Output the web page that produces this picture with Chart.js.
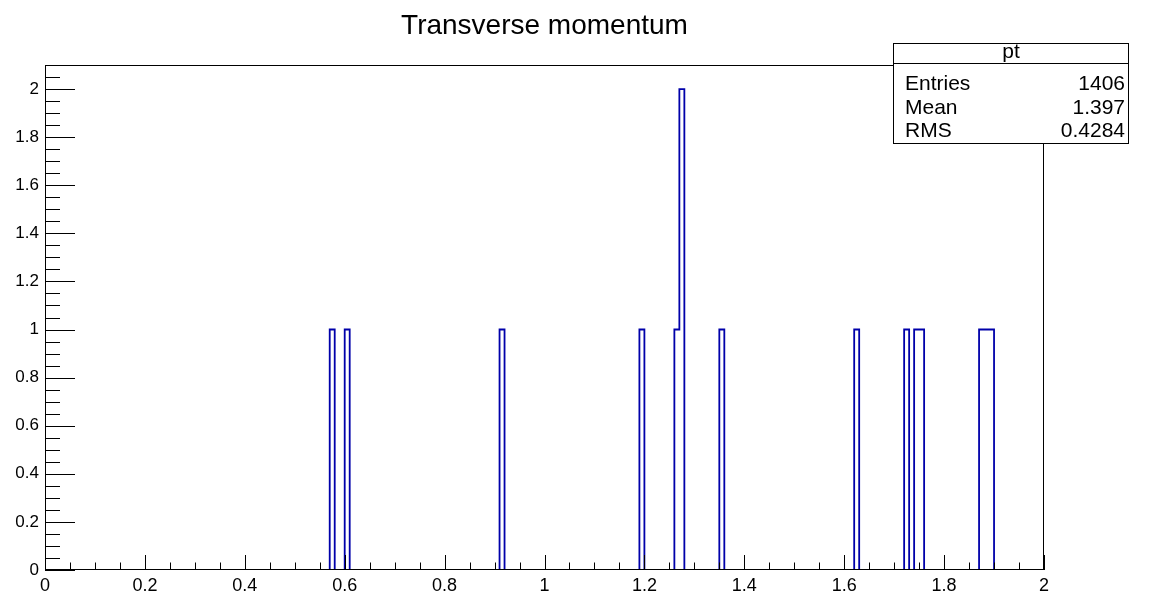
<!DOCTYPE html>
<html>
<head>
<meta charset="utf-8">
<script src="https://cdn.jsdelivr.net/npm/chart.js@4.4.1/dist/chart.umd.min.js"></script>
<style>
  body { margin: 0; background: #fff; }
  #wrap { width: 1149px; height: 595px; }
</style>
</head>
<body>
<div id="wrap"><canvas id="ptChart" width="1149" height="595"></canvas></div>
<script>
// histogram: 200 bins from 0 to 2, only filled bins listed
const xMin = 0;
const xMax = 2;
const nBins = 200;
const binLow = [0.57, 0.60, 0.91, 1.19, 1.26, 1.27, 1.35, 1.62, 1.72, 1.74, 1.75, 1.87, 1.88, 1.89];
const binCounts = [1, 1, 1, 1, 1, 2, 1, 1, 1, 1, 1, 1, 1, 1];

const xTickValues = [0, 0.2, 0.4, 0.6, 0.8, 1, 1.2, 1.4, 1.6, 1.8, 2];
const xTickLabels = ['0', '0.2', '0.4', '0.6', '0.8', '1', '1.2', '1.4', '1.6', '1.8', '2'];
const yTickValues = [0, 0.2, 0.4, 0.6, 0.8, 1, 1.2, 1.4, 1.6, 1.8, 2];
const yTickLabels = ['0', '0.2', '0.4', '0.6', '0.8', '1', '1.2', '1.4', '1.6', '1.8', '2'];
const yMax = 2.1;

const statsTitle = 'pt';
const statsNames = ['Entries', 'Mean', 'RMS'];
const statsValues = ['1406', '1.397', '0.4284'];

// build step outline from the bins
const width = (xMax - xMin) / nBins;
const counts = new Array(nBins).fill(0);
binLow.forEach((lo, i) => {
    counts[Math.round((lo - xMin) / width)] = binCounts[i];
});
// point at each bin's low edge with its count, closed at xMax
const stepPoints = counts.map((c, i) => ({ x: xMin + i * width, y: c }));
stepPoints.push({ x: xMax, y: 0 });

const FONT = '"Liberation Sans", Arial, Helvetica, sans-serif';

// ROOT style frame, inward ticks, title and stats box
const rootDecor = {
    id: 'rootDecor',
    afterDraw(chart) {
        const c = chart.ctx;
        const a = chart.chartArea;
        const xs = chart.scales.x;
        const ys = chart.scales.y;
        c.save();
        c.strokeStyle = '#000';
        c.lineWidth = 1;

        // frame
        c.strokeRect(a.left + 0.5, a.top + 0.5, a.right - a.left - 1, a.bottom - a.top - 1);
        c.beginPath();
        c.moveTo(a.left, a.bottom - 0.5);
        c.lineTo(a.right, a.bottom - 0.5);
        c.moveTo(a.left + 0.5, a.top);
        c.lineTo(a.left + 0.5, a.bottom);
        c.stroke();

        // x ticks
        c.beginPath();
        for (let k = 0; k <= 40; k++) {
            const v = xMin + k * 0.05;
            const px = Math.round(xs.getPixelForValue(v)) + 0.5;
            const len = (k % 4 === 0) ? 15 : 7.5;
            c.moveTo(px, a.bottom);
            c.lineTo(px, a.bottom - len);
        }
        // y ticks
        for (let k = 0; k <= 42; k++) {
            const v = k * 0.05;
            if (v > yMax + 1e-9) break;
            const py = Math.round(ys.getPixelForValue(v)) + 0.5;
            const len = (k % 4 === 0) ? 30 : 15;
            c.moveTo(a.left, py);
            c.lineTo(a.left + len, py);
        }
        c.stroke();

        // title
        c.fillStyle = '#000';
        c.font = '28px ' + FONT;
        c.textAlign = 'center';
        c.textBaseline = 'alphabetic';
        c.fillText('Transverse momentum', (a.left + a.right) / 2, 34);

        // stats box
        const bx = 893, by = 43, bw = 236, bh = 101;
        c.fillStyle = '#fff';
        c.fillRect(bx, by, bw, bh);
        c.strokeRect(bx + 0.5, by + 0.5, bw - 1, bh - 1);
        c.beginPath();
        c.moveTo(bx, by + 20.5);
        c.lineTo(bx + bw, by + 20.5);
        c.stroke();
        c.fillStyle = '#000';
        c.font = '21px ' + FONT;
        c.textAlign = 'center';
        c.fillText(statsTitle, bx + bw / 2, by + 15);
        statsNames.forEach((name, i) => {
            const ty = by + 47 + i * 23.5;
            c.textAlign = 'left';
            c.fillText(name, bx + 12, ty);
            c.textAlign = 'right';
            c.fillText(statsValues[i], bx + bw - 4, ty);
        });
        c.restore();
    }
};

const ctx = document.getElementById('ptChart').getContext('2d');
const ptChart = new Chart(ctx, {
    type: 'line',
    data: {
        datasets: [{
            data: stepPoints,
            stepped: 'before',
            borderColor: '#0000aa',
            borderWidth: 1.8,
            pointRadius: 0,
            fill: false
        }]
    },
    options: {
        responsive: false,
        animation: false,
        layout: { padding: { left: 0, top: 65, right: 105, bottom: 0 } },
        plugins: {
            legend: { display: false },
            tooltip: { enabled: false }
        },
        scales: {
            x: {
                type: 'linear',
                min: xMin,
                max: xMax,
                border: { display: false },
                grid: { display: false, drawTicks: false },
                afterBuildTicks: s => { s.ticks = xTickValues.map(v => ({ value: v })); },
                afterFit: s => { s.height = 25; },
                ticks: {
                    color: '#000',
                    padding: 5,
                    maxRotation: 0,
                    autoSkip: false,
                    font: { family: FONT, size: 18 },
                    callback: (v, i) => xTickLabels[i]
                }
            },
            y: {
                min: 0,
                max: yMax,
                border: { display: false },
                grid: { display: false, drawTicks: false },
                afterBuildTicks: s => { s.ticks = yTickValues.map(v => ({ value: v })); },
                afterFit: s => { s.width = 45; },
                ticks: {
                    color: '#000',
                    padding: 6,
                    autoSkip: false,
                    font: { family: FONT, size: 17 },
                    callback: (v, i) => yTickLabels[i]
                }
            }
        }
    },
    plugins: [rootDecor]
});
</script>
</body>
</html>
